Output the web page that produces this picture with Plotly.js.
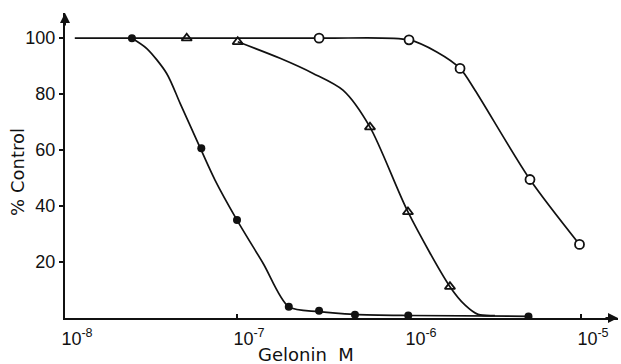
<!DOCTYPE html>
<html>
<head>
<meta charset="utf-8">
<script src="https://cdn.plot.ly/plotly-3.0.1.min.js"></script>
<style>html,body{margin:0;padding:0;background:#fff;}#chart{width:621px;height:364px;}</style>
</head>
<body>
<div id="chart"></div>
<script>
// Measured points (Gelonin concentration in M, % of control)
const filledX = [2.45e-8, 6.2e-8, 1.0e-7, 2.0e-7, 3.0e-7, 4.85e-7, 9.9e-7, 4.95e-6];
const filledY = [100, 60.7, 35, 4.0, 2.6, 1.2, 0.9, 0.5];

const triangleX = [5.1e-8, 1.01e-7, 5.93e-7, 9.86e-7, 1.73e-6];
const triangleY = [100, 98.7, 68.2, 37.9, 11.2];

const openX = [3.0e-7, 1.0e-6, 1.98e-6, 5.05e-6, 9.8e-6];
const openY = [100, 99.4, 89.2, 49.5, 26.3];

// Hand-drawn fitted curves
const filledCurveX = [2.45e-8, 2.99e-8, 3.9e-8, 4.67e-8, 5.83e-8, 7.45e-8, 1.0e-7, 1.42e-7, 2.0e-7, 3.0e-7, 4.85e-7, 9.9e-7, 4.95e-6];
const filledCurveY = [100, 96.3, 87.4, 76.7, 63.6, 49.3, 35, 19.5, 4.0, 2.3, 1.3, 0.9, 0.6];

const triangleCurveX = [1.01e-7, 1.78e-7, 2.77e-7, 4.13e-7, 5.93e-7, 9.86e-7, 1.73e-6, 2.12e-6, 2.52e-6, 3.16e-6];
const triangleCurveY = [98.7, 92.8, 87.4, 81.4, 68.2, 37.9, 11.2, 4.6, 1.3, 0.9];

const openCurveX = [1.14e-8, 3.0e-7, 1.0e-6, 1.45e-6, 1.98e-6, 2.42e-6, 5.05e-6, 9.8e-6];
const openCurveY = [100, 100, 99.4, 95.1, 89.2, 81.4, 49.5, 26.3];

const tickVals = [1e-8, 1e-7, 1e-6, 1e-5];
const tickText = ['10<sup>-8</sup>', '10<sup>-7</sup>', '10<sup>-6</sup>', '10<sup>-5</sup>'];
const yTickVals = [20, 40, 60, 80, 100];
const xTitle = 'Gelonin  M';
const yTitle = '% Control';

const ink = '#111';
const lineStyle = {color: ink, width: 1.7, shape: 'spline', smoothing: 0.8};

const traces = [
  {x: openCurveX, y: openCurveY, mode: 'lines', line: lineStyle, hoverinfo: 'skip'},
  {x: triangleCurveX, y: triangleCurveY, mode: 'lines', line: lineStyle, hoverinfo: 'skip'},
  {x: filledCurveX, y: filledCurveY, mode: 'lines', line: lineStyle, hoverinfo: 'skip'},
  {x: filledX, y: filledY, mode: 'markers', marker: {symbol: 'circle', size: 8, color: ink}},
  {x: triangleX, y: triangleY, mode: 'markers', marker: {symbol: 'triangle-up-open', size: 9, color: ink, line: {width: 1.8, color: ink}}},
  {x: openX, y: openY, mode: 'markers', marker: {symbol: 'circle', size: 9, color: '#fff', line: {width: 1.8, color: ink}}}
];

const tickFamily = 'Liberation Sans, Arial, sans-serif';
const titleFamily = 'DejaVu Sans, Verdana, sans-serif';

const layout = {
  width: 621, height: 364,
  margin: {l: 65, r: 3, t: 13, b: 46},
  paper_bgcolor: '#fff', plot_bgcolor: '#fff',
  showlegend: false,
  font: {family: tickFamily, size: 16, color: ink},
  xaxis: {
    type: 'log', range: [-8, -4.785],
    tickvals: tickVals, ticktext: tickText,
    ticks: 'inside', ticklen: 4, tickwidth: 1.5, tickcolor: ink,
    ticklabelshift: 12, ticklabelstandoff: 3,
    showgrid: false, zeroline: false,
    showline: true, linewidth: 2.2, linecolor: ink,
    tickfont: {family: tickFamily, size: 18, color: ink}
  },
  yaxis: {
    range: [0, 109],
    tickvals: yTickVals,
    ticks: 'outside', ticklen: 4, tickwidth: 1.5, tickcolor: ink,
    showgrid: false, zeroline: false,
    showline: true, linewidth: 2.2, linecolor: ink,
    tickfont: {family: tickFamily, size: 18, color: ink}
  },
  annotations: [
    {xref: 'paper', yref: 'paper', x: 0.436, y: -0.121, xanchor: 'center', yanchor: 'middle',
     text: xTitle, showarrow: false, font: {family: titleFamily, size: 18, color: ink}},
    {xref: 'paper', yref: 'paper', x: -0.085, y: 0.479, xanchor: 'center', yanchor: 'middle',
     text: yTitle, textangle: -90, showarrow: false, font: {family: titleFamily, size: 18, color: ink}},
    {xref: 'paper', yref: 'paper', x: 0, y: 1.0, ax: 0, ay: 14,
     showarrow: true, arrowhead: 2, arrowsize: 1, arrowwidth: 2, arrowcolor: ink, text: ''},
    {xref: 'paper', yref: 'paper', x: 1.0, y: 0, ax: -14, ay: 0,
     showarrow: true, arrowhead: 2, arrowsize: 1, arrowwidth: 2, arrowcolor: ink, text: ''}
  ]
};

Plotly.newPlot('chart', traces, layout, {staticPlot: true, displayModeBar: false});
</script>
</body>
</html>
